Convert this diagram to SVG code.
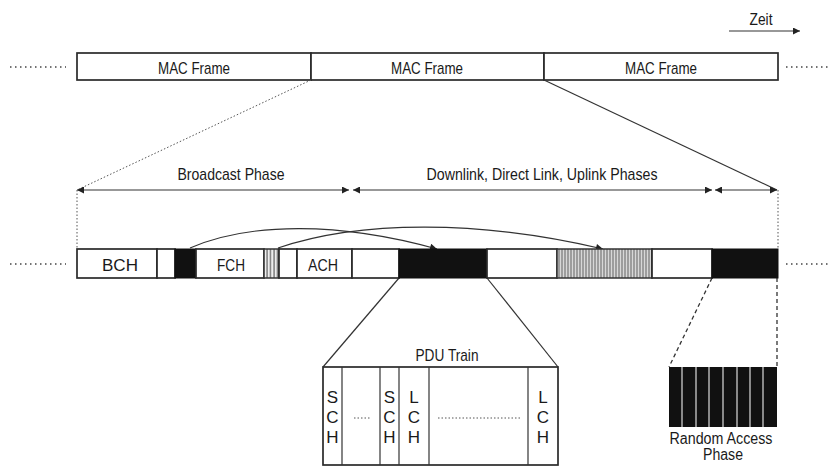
<svg xmlns="http://www.w3.org/2000/svg" width="831" height="467" viewBox="0 0 831 467">
<style>
text{font-family:"Liberation Sans",Arial,sans-serif;font-size:17px;fill:#1a1a1a;text-anchor:middle}
.box{fill:#fff;stroke:#2a2a2a;stroke-width:1.7}
.blk{fill:#111;stroke:#111;stroke-width:1}
.ln{stroke:#333;stroke-width:1.2;fill:none}
.dot{stroke:#444;stroke-width:1.5;stroke-dasharray:1.5 3.5;fill:none}
.dsh{stroke:#333;stroke-width:1.3;stroke-dasharray:4 3;fill:none}
.fdot{stroke:#555;stroke-width:1;stroke-dasharray:1.5 2;fill:none}
.ra{font-size:16px}
</style>
<defs>
<marker id="ah" viewBox="0 0 10 10" refX="10" refY="5" markerWidth="8" markerHeight="7" markerUnits="userSpaceOnUse" orient="auto-start-reverse">
<path d="M0,0 L10,5 L0,10 z" fill="#222"/>
</marker>
<pattern id="hatch" width="3" height="10" patternUnits="userSpaceOnUse">
<rect width="3" height="10" fill="#d8d8d8"/>
<line x1="1" y1="0" x2="1" y2="10" stroke="#555" stroke-width="0.9"/>
</pattern>
<pattern id="hatch2" width="3.5" height="10" patternUnits="userSpaceOnUse">
<rect width="3.5" height="10" fill="#eee"/>
<line x1="1" y1="0" x2="1" y2="10" stroke="#444" stroke-width="1"/>
</pattern>
</defs>

<g id="zeit">
<text x="761" y="25" textLength="23" lengthAdjust="spacingAndGlyphs">Zeit</text>
<line class="ln" x1="729" y1="31" x2="800" y2="31" marker-end="url(#ah)"/>
</g>

<g id="mac-frames">
<line class="dot" x1="10" y1="67" x2="66" y2="67"/>
<line class="dot" x1="786" y1="67" x2="831" y2="67"/>
<g id="mac1"><rect class="box" x="77" y="53" width="234" height="27"/><text x="194" y="74" textLength="72" lengthAdjust="spacingAndGlyphs">MAC Frame</text></g>
<g id="mac2"><rect class="box" x="311" y="53" width="233" height="27"/><text x="427" y="74" textLength="72" lengthAdjust="spacingAndGlyphs">MAC Frame</text></g>
<g id="mac3"><rect class="box" x="544" y="53" width="234" height="27"/><text x="661" y="74" textLength="72" lengthAdjust="spacingAndGlyphs">MAC Frame</text></g>
</g>

<g id="phases">
<text x="231" y="180" textLength="107" lengthAdjust="spacingAndGlyphs">Broadcast Phase</text>
<text x="542" y="180" textLength="231" lengthAdjust="spacingAndGlyphs">Downlink, Direct Link, Uplink Phases</text>
</g>

<g id="connectors">
<line class="fdot" x1="311" y1="80" x2="77" y2="190"/>
<line class="ln" x1="544" y1="80" x2="777" y2="190"/>
<line class="ln" x1="77" y1="190" x2="349" y2="190" marker-start="url(#ah)" marker-end="url(#ah)"/>
<line class="ln" x1="353" y1="190" x2="712" y2="190" marker-start="url(#ah)" marker-end="url(#ah)"/>
<line class="ln" x1="715" y1="190" x2="777" y2="190" marker-start="url(#ah)" marker-end="url(#ah)"/>
<line class="fdot" x1="77" y1="190" x2="77" y2="249"/>
<line class="fdot" x1="778" y1="190" x2="778" y2="249"/>
<path class="ln" d="M190,248 C250,222 340,222 437,249" marker-end="url(#ah)"/>
<path class="ln" d="M278,248 C360,220 480,220 603,249" marker-end="url(#ah)"/>
<line class="ln" x1="399" y1="278" x2="323" y2="367"/>
<line class="ln" x1="487" y1="278" x2="558" y2="367"/>
<line class="dsh" x1="712" y1="278" x2="669" y2="367"/>
<line class="dsh" x1="777" y1="278" x2="777" y2="367"/>
</g>

<g id="phy-frame">
<line class="dot" x1="10" y1="264" x2="66" y2="264"/>
<line class="dot" x1="786" y1="264" x2="831" y2="264"/>
<g id="bch"><rect class="box" x="77" y="249" width="80" height="29"/><text x="120" y="271" textLength="36" lengthAdjust="spacingAndGlyphs">BCH</text></g>
<rect class="box" x="157" y="249" width="18" height="29"/>
<rect class="blk" x="175" y="249" width="21" height="29"/>
<g id="fch"><rect class="box" x="196" y="249" width="68" height="29"/><text x="231" y="271" textLength="28" lengthAdjust="spacingAndGlyphs">FCH</text></g>
<rect x="264" y="249" width="15" height="29" fill="url(#hatch2)" stroke="#333" stroke-width="1.5"/>
<rect class="box" x="279" y="249" width="18" height="29"/>
<g id="ach"><rect class="box" x="297" y="249" width="55" height="29"/><text x="323" y="271" textLength="30" lengthAdjust="spacingAndGlyphs">ACH</text></g>
<rect class="box" x="352" y="249" width="47" height="29"/>
<rect class="blk" x="399" y="249" width="88" height="29"/>
<rect class="box" x="487" y="249" width="70" height="29"/>
<rect x="557" y="249" width="95" height="29" fill="url(#hatch)" stroke="#333" stroke-width="1.5"/>
<rect class="box" x="652" y="249" width="60" height="29"/>
<rect class="blk" x="712" y="249" width="66" height="29"/>
</g>

<g id="pdu-train">
<text x="447" y="361" textLength="63" lengthAdjust="spacingAndGlyphs">PDU Train</text>
<rect class="box" x="323" y="367" width="235" height="98"/>
<line class="ln" x1="342" y1="367" x2="342" y2="465"/>
<line class="ln" x1="380" y1="367" x2="380" y2="465"/>
<line class="ln" x1="399" y1="367" x2="399" y2="465"/>
<line class="ln" x1="429" y1="367" x2="429" y2="465"/>
<line class="ln" x1="528" y1="367" x2="528" y2="465"/>
<text x="332.5" y="403">S</text><text x="332.5" y="423">C</text><text x="332.5" y="443">H</text>
<line class="fdot" x1="354" y1="418" x2="370" y2="418" stroke-dasharray="2 3"/>
<text x="389.5" y="403">S</text><text x="389.5" y="423">C</text><text x="389.5" y="443">H</text>
<text x="414" y="403">L</text><text x="414" y="423">C</text><text x="414" y="443">H</text>
<line class="fdot" x1="438" y1="418" x2="521" y2="418" stroke-dasharray="2 4.5"/>
<text x="543" y="403">L</text><text x="543" y="423">C</text><text x="543" y="443">H</text>
</g>

<g id="random-access">
<rect x="669" y="367" width="108" height="60" fill="#111"/>
<g stroke="#ddd" stroke-width="1.2">
<line x1="682" y1="367" x2="682" y2="427"/>
<line x1="696" y1="367" x2="696" y2="427"/>
<line x1="709" y1="367" x2="709" y2="427"/>
<line x1="723" y1="367" x2="723" y2="427"/>
<line x1="737" y1="367" x2="737" y2="427"/>
<line x1="750" y1="367" x2="750" y2="427"/>
<line x1="763" y1="367" x2="763" y2="427"/>
</g>
<text class="ra" x="721" y="444" textLength="103" lengthAdjust="spacingAndGlyphs">Random Access</text>
<text class="ra" x="723" y="460" textLength="40" lengthAdjust="spacingAndGlyphs">Phase</text>
</g>
</svg>
